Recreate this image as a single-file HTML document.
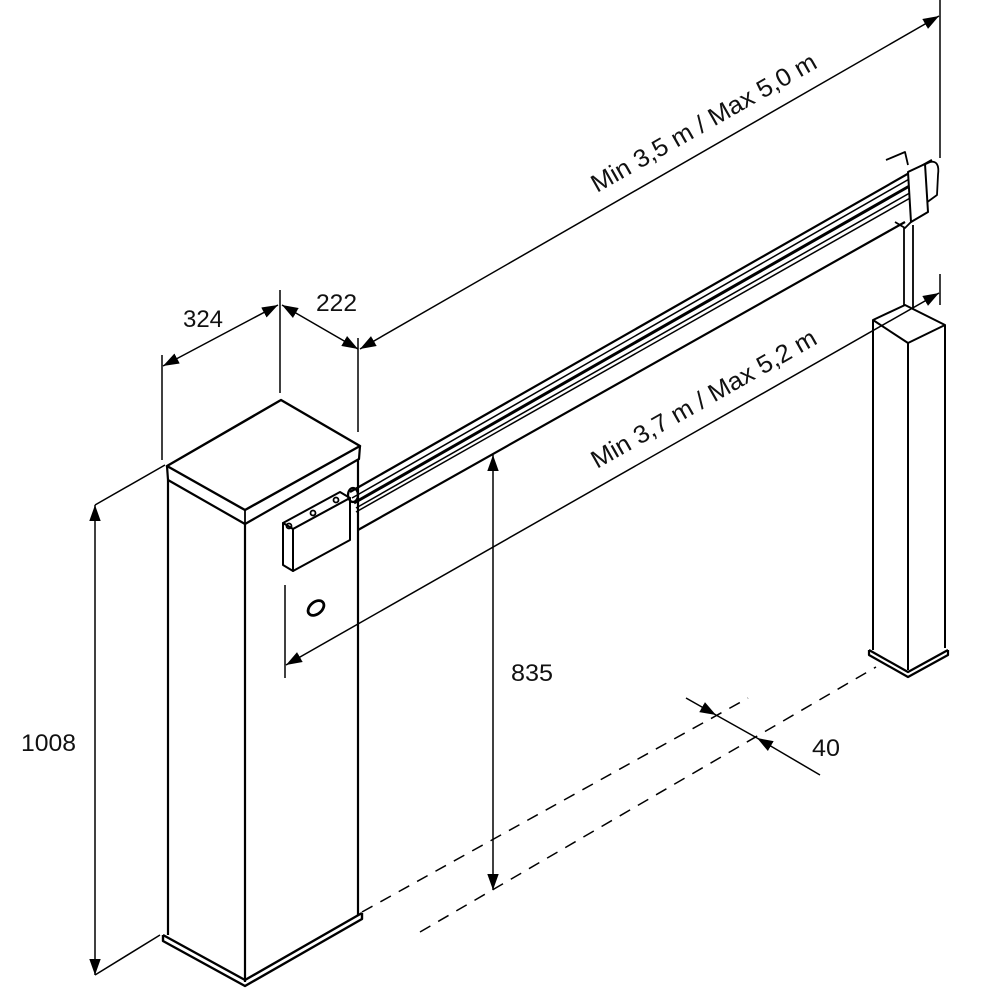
<!DOCTYPE html>
<html><head><meta charset="utf-8"><style>
html,body{margin:0;padding:0;background:#fff;width:1000px;height:1000px;overflow:hidden}
text{font-family:"Liberation Sans",sans-serif;fill:#111}
</style></head><body>
<svg width="1000" height="1000" viewBox="0 0 1000 1000" xmlns="http://www.w3.org/2000/svg">
<defs>
<marker id="b" viewBox="0 0 14 10" refX="14" refY="5" markerWidth="16" markerHeight="12" markerUnits="userSpaceOnUse" orient="auto-start-reverse"><path d="M0,0 L14,5 L0,10z" fill="#000"/></marker>
</defs>
<g stroke="#000" fill="none" stroke-width="1.8" stroke-linejoin="round">
<!-- cabinet -->
<path d="M167,466 L281,400 L360,446 L245,510 Z" fill="#fff" stroke-width="2.4"/>
<path d="M167,466 L168,480 L245,524 L359,459 L360,446" stroke-width="2.2"/>
<line x1="245" y1="510" x2="245" y2="524"/>
<line x1="168" y1="480" x2="168" y2="935" stroke-width="2.2"/>
<line x1="245" y1="524" x2="245" y2="982" stroke-width="2.2"/>
<line x1="358" y1="459" x2="358" y2="915" stroke-width="2.2"/>
<path d="M163,935 L245,980 L362,913 M163,935 L163,941 L245,986 L362,919 L362,913" stroke-width="2.4"/>
<!-- lock -->
<ellipse cx="316" cy="608" rx="9" ry="6" transform="rotate(-40 316 608)" stroke-width="2.8"/>
<!-- beam -->
<path d="M350,492 L932,160" stroke-width="2.2"/>
<path d="M352,498 L925,170" stroke-width="1.5"/>
<path d="M354,503 L920,180" stroke-width="3"/>
<path d="M356,508 L915,190" stroke-width="1.5"/>
<path d="M356,512 L912,197" stroke-width="1.5"/>
<path d="M358,530 L905,222" stroke-width="2.2"/>
<!-- beam bracket box -->
<path d="M283,523 L340,492 L350,498 L293,529 Z" fill="#fff" stroke-width="2"/>
<path d="M293,529 L350,498 L350,540 L293,571 Z" fill="#fff" stroke-width="2"/>
<path d="M283,523 L293,529 L293,571 L283,565 Z" fill="#fff" stroke-width="2"/>
<circle cx="289" cy="526" r="2.5"/><circle cx="313" cy="513" r="2.5"/><circle cx="336" cy="500" r="2.5"/>
<ellipse cx="353" cy="495" rx="5" ry="7" stroke-width="2.2"/>
<!-- beam end -->
<path d="M886,160 L905,152 L908,165" stroke-width="1.8"/>
<path d="M908,172 L930,162 Q940,160 938,175 L937,195 L926,203"/>
<path d="M908,172 L925,164 L928,212 L911,222 Z" fill="#fff" stroke-width="2"/>
<path d="M895,222 L905,228 L911,222"/>
<path d="M904,228 L904,318 M913,225 L913,318"/>
<!-- right post -->
<path d="M873,320 L905,305 L945,325 L908,343 Z" fill="#fff" stroke-width="2"/>
<line x1="873" y1="320" x2="873" y2="650" stroke-width="2"/>
<line x1="908" y1="343" x2="908" y2="670" stroke-width="2"/>
<line x1="945" y1="325" x2="945" y2="648" stroke-width="2"/>
<path d="M869,650 L908,672 L948,650 M869,650 L869,655 L908,677 L948,655 L948,650" stroke-width="2.2"/>
</g>
<g stroke="#000" fill="none" stroke-width="1.5">
<line x1="162" y1="355" x2="162" y2="460"/>
<line x1="280" y1="290" x2="280" y2="393"/>
<line x1="358" y1="338" x2="358" y2="432"/>
<line x1="940" y1="0" x2="940" y2="158"/>
<line x1="940" y1="274" x2="940" y2="305"/>
<line x1="285" y1="585" x2="285" y2="678"/>
<line x1="95" y1="505" x2="165" y2="465"/>
<line x1="95" y1="975" x2="160" y2="935"/>
<line x1="163" y1="366" x2="278" y2="305" marker-start="url(#b)" marker-end="url(#b)"/>
<line x1="282" y1="305" x2="358" y2="349" marker-start="url(#b)" marker-end="url(#b)"/>
<line x1="360" y1="349" x2="939" y2="16" marker-start="url(#b)" marker-end="url(#b)"/>
<line x1="286" y1="665" x2="939" y2="293" marker-start="url(#b)" marker-end="url(#b)"/>
<line x1="95" y1="505" x2="95" y2="975" marker-start="url(#b)" marker-end="url(#b)"/>
<line x1="493" y1="455" x2="493" y2="890" marker-start="url(#b)" marker-end="url(#b)"/>
<line x1="686" y1="698" x2="716" y2="715" marker-end="url(#b)"/>
<line x1="716" y1="715" x2="757" y2="738"/>
<line x1="820" y1="775" x2="757" y2="738" marker-end="url(#b)"/>
<line x1="362" y1="912" x2="748" y2="698" stroke-dasharray="12,9"/>
<line x1="420" y1="932" x2="876" y2="667" stroke-dasharray="12,9"/>
</g>
<g font-size="24">
<text x="183" y="327" textLength="40" lengthAdjust="spacingAndGlyphs">324</text>
<text x="316" y="311" textLength="41" lengthAdjust="spacingAndGlyphs">222</text>
<text x="21" y="751" textLength="55" lengthAdjust="spacingAndGlyphs">1008</text>
<text x="511" y="681" textLength="42" lengthAdjust="spacingAndGlyphs">835</text>
<text x="812" y="756" textLength="28" lengthAdjust="spacingAndGlyphs">40</text>
<text font-size="25" transform="translate(597,193) rotate(-29.6)" textLength="255" lengthAdjust="spacingAndGlyphs">Min 3,5 m / Max 5,0 m</text>
<text font-size="25" transform="translate(597,469) rotate(-29.6)" textLength="255" lengthAdjust="spacingAndGlyphs">Min 3,7 m / Max 5,2 m</text>
</g>
</svg>
</body></html>
